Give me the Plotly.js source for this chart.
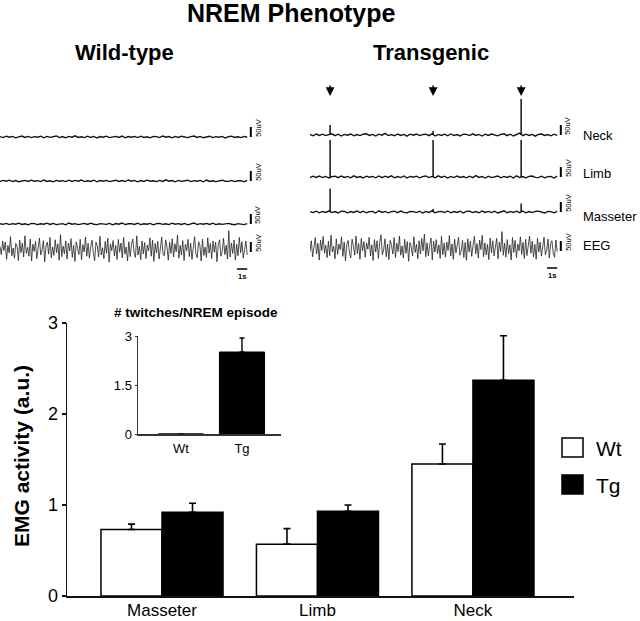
<!DOCTYPE html>
<html>
<head>
<meta charset="utf-8">
<script src="https://cdn.plot.ly/plotly-3.0.1.min.js"></script>
<style>
  html, body { margin: 0; padding: 0; background: #fff; }
  #chart { width: 640px; height: 621px; }
</style>
</head>
<body>
<div id="chart"></div>
<script>
'use strict';

/* ---------------------------- bar chart data ---------------------------- */
const muscles = ['Masseter', 'Limb', 'Neck'];
const wtMean = [0.73, 0.57, 1.45];
const wtErr = [0.06, 0.17, 0.22];
const tgMean = [0.92, 0.93, 2.37];
const tgErr = [0.10, 0.07, 0.49];

const twitchGroups = ['Wt', 'Tg'];
const twitchMean = [0, 2.51];
const twitchErr = [0, 0.43];

const legendNames = ['Wt', 'Tg'];

/* ------------------------- trace data (µV, 24 s) ------------------------- */
const rowNames = ['Neck', 'Limb', 'Masseter', 'EEG'];

const wtNeck = [2,-3,4,-1,3,-4,1,5,-2,3,-3,2,-1,4,-4,3,-2,1,5,-3,2,-4,3,-1,6,-2,1,-3,4,-2,3,-5,2,-1,4,-3,1,3,-2,5,-4,2,-1,3,-3,4,-2,1,-4,3,2,-3,5,-1,2,-4,3,-2,4,-1,-3,2,5,-2,3,-4,1,4,-3,2,-1,3,-5,2,4,-2,1,-3,3,-1];
const wtLimb = [-2,3,-1,4,-3,2,-4,1,3,-2,4,-1,2,-3,5,-2,1,-4,3,-1,2,-3,4,-2,3,-1,5,-3,1,-2,4,-4,2,-1,3,-3,1,4,-2,2,-3,5,-1,3,-4,2,-2,4,-1,1,-3,3,-2,6,-1,2,-4,3,-2,1,4,-3,2,-1,3,-4,5,-2,1,-3,2,4,-1,-2,3,-3,1,2,-4,3];
const wtMass = [1,-2,3,-3,2,-1,4,-2,1,-4,3,2,-3,1,-1,4,-2,3,-3,1,2,-4,5,-1,2,-3,1,3,-2,4,-1,-3,2,1,-2,3,-4,2,-1,5,-3,1,2,-2,4,-3,1,-1,3,-4,2,3,-2,1,-3,4,-1,2,-2,3,-4,1,5,-3,2,-1,3,-2,4,-3,1,-2,2,3,-1,-4,2,1,-3,2];
const wtEEG = [12,-28,40,-8,35,-52,18,-20,62,-34,5,-46,28,14,-58,44,-18,30,-40,66,-22,8,-36,50,-60,24,-12,38,-48,20,55,-30,-6,42,-64,16,34,-26,58,-44,10,-32,46,-18,26,-56,72,-38,14,-24,40,-50,30,-10,52,-42,18,-62,36,4,-28,48,-54,22,-14,60,-36,28,-46,12,44,-20,-58,34,16,-40,64,-30,6,-48,38,-22,54,-66,26,-8,42,-34,18,-52,48,-16,30,-44,58,-26,10,-60,36,-38,24,50,-18,-42,66,-30,14,-54,40,-24,32,-48,20,-10,56,-36,44,-62,28,-20,38,-50,16,60,-28,-34,46,8,-56,34,-22,52,-40,26,-14,70,-46,18,-30,42,-58,24,-8,48,-38,30,-52,14,62,-24,-44,36,20,-60,50,-32,10,-42,56,-20,28,-48,40,-16,34,-64,22,46,-36,-12,54,-28,18,-50,92,-40,30,-22,44,-56,24,-34,58,-18,36,-46,12,40,-30];

const tgNeck = [3,-4,5,-2,4,-3,2,6,-3,4,-5,3,-1,5,-4,2,-3,4,6,-2,3,-5,4,-1,8,-3,2,-4,5,-2,3,-6,4,-1,5,-3,2,4,-3,6,-5,3,-2,4,-4,5,-3,2,-5,4,3,-3,6,-2,3,-5,4,-2,5,-1,-4,3,6,-3,4,-5,2,10,-3,4,-2,3,-6,3,5,-2,2,-4,4,-2];
const tgLimb = [-3,4,-2,5,-3,3,-5,2,4,-3,5,-2,3,-4,6,-2,2,-5,4,-1,3,-4,5,-3,4,-2,6,-4,2,-3,5,-5,3,-1,4,-4,2,5,-3,3,-4,6,-2,4,-5,3,-3,5,-2,2,-4,4,-3,7,-2,3,-5,4,-3,2,5,-4,3,-2,4,-5,6,-3,2,-4,3,5,-2,-3,4,-4,2,3,-5,4];
const tgMass = [2,-3,4,-4,3,-2,5,-3,2,-5,4,3,-4,2,-2,5,-3,4,-4,2,3,-5,6,-2,3,-4,2,4,-3,5,-2,-4,3,2,-3,4,-5,3,-2,6,-4,2,3,-3,5,-4,2,-2,4,-5,3,4,-3,2,-4,5,-2,3,-3,4,-5,2,6,-4,3,-2,4,-3,5,-4,2,-3,3,4,-2,-5,3,2,-4,3];
const tgEEG = [-18,36,-44,10,52,-30,24,-60,40,-12,58,-26,14,-48,34,-38,64,-20,8,-54,46,-32,20,-8,56,-42,30,-64,18,38,-24,-50,44,12,-36,60,-28,22,-56,48,-14,32,-46,26,-6,54,-40,16,-62,42,-20,36,-52,28,66,-34,-10,46,-44,20,-58,38,14,-30,52,-48,24,-18,60,-36,10,-50,44,-26,32,-66,28,6,-40,56,-22,18,-54,36,-30,48,-14,70,-44,26,-38,12,50,-60,34,-20,42,-28,16,-52,58,-34,24,-46,30,-12,62,-40,20,-56,44,-24,8,54,-36,-16,38,-48,28,-62,46,-20,34,-42,14,58,-30,22,-50,40,-8,64,-44,26,-34,18,-58,50,-24,36,-40,12,48,-54,30,-18,82,-36,24,-46,42,-28,16,-60,52,-22,38,-48,20,-14,56,-32,28,-52,44,-38,10,60,-26,34,-44,18,-56,48,-20,30,-40,24,54,-34,-12,44,-50,22,36,-28,-46,40,-18];

// twitches (transgenic only), times in s, peak amplitudes per muscle in µV
const twitchTimes = [1.95, 11.95, 20.5];
const tgNeckSpikes = [50, 20, 180];
const tgLimbSpikes = [185, 185, 185];
const tgMassSpikes = [117, 15, 42];

/* ------------------------------- geometry ------------------------------- */
const W = 640, H = 621;
const FONT = 'Liberation Sans, Arial, sans-serif';
const fx = p => p / W;
const fy = p => 1 - p / H;
const UV_PER_PX = 5;
const PX_PER_S = 10.3;
const DUR = 24;
const SCALE_T = 24.35;

const times = arr => arr.map((_, i) => i * DUR / (arr.length - 1));

function rowAxis(xa, basePx, lo, hi) {
  return {
    anchor: xa, visible: false, fixedrange: true, range: [lo, hi],
    domain: [fy(basePx - lo / UV_PER_PX), fy(basePx - hi / UV_PER_PX)],
  };
}
const timeAxis = (ya, leftPx, rightPx) => ({
  anchor: ya, visible: false, fixedrange: true,
  domain: [fx(leftPx), fx(rightPx)], range: [0, (rightPx - leftPx) / PX_PER_S],
});

/* -------------------------------- traces -------------------------------- */
const traces = [];
const errStyle = (err) => ({
  type: 'data', symmetric: false, array: err, arrayminus: err.map(() => 0),
  color: '#000', thickness: 1.6, width: 3.5,
});
traces.push({
  type: 'bar', x: muscles, y: wtMean, name: 'Wt', xaxis: 'x', yaxis: 'y',
  marker: { color: '#fff', line: { color: '#000', width: 1.5 } },
  error_y: errStyle(wtErr), hoverinfo: 'x+y',
});
traces.push({
  type: 'bar', x: muscles, y: tgMean, name: 'Tg', xaxis: 'x', yaxis: 'y',
  marker: { color: '#000', line: { color: '#000', width: 1.5 } },
  error_y: errStyle(tgErr), hoverinfo: 'x+y',
});
traces.push({
  type: 'bar', x: twitchGroups, y: twitchMean, xaxis: 'x2', yaxis: 'y2', width: 0.74,
  marker: { color: '#000', line: { color: '#000', width: 1 } },
  error_y: Object.assign(errStyle(twitchErr), { thickness: 1.4, width: 2.5 }),
});

// EEG / EMG traces
const wtRows = [wtNeck, wtLimb, wtMass, wtEEG];
const tgRows = [tgNeck, tgLimb, tgMass, tgEEG];
const rowLine = (xa, ya, data, isEEG) => ({
  type: 'scatter', mode: 'lines', x: times(data), y: data, xaxis: xa, yaxis: ya,
  line: { color: isEEG ? '#222' : '#111', width: isEEG ? 0.8 : 1.4 },
  hoverinfo: 'skip',
});
wtRows.forEach((d, i) => traces.push(rowLine('x3', 'y' + (3 + i), d, i === 3)));
tgRows.forEach((d, i) => traces.push(rowLine('x4', 'y' + (7 + i), d, i === 3)));

[tgNeckSpikes, tgLimbSpikes, tgMassSpikes].forEach((amps, i) => {
  const xs = [], ys = [];
  twitchTimes.forEach((t, k) => { xs.push(t, t, null); ys.push(0, amps[k], null); });
  traces.push({
    type: 'scatter', mode: 'lines', x: xs, y: ys, xaxis: 'x4', yaxis: 'y' + (7 + i),
    line: { color: '#000', width: 1.4 }, hoverinfo: 'skip',
  });
});

/* -------------------------------- layout -------------------------------- */
const wtBase = [137, 181, 224, 249];
const tgBase = [135, 177, 212, 248];
const tgLabelOffset = [0, 20, -20, 15];   // µV, label centre relative to baseline

const layout = {
  width: W, height: H, margin: { l: 0, r: 0, t: 0, b: 0 },
  paper_bgcolor: '#fff', plot_bgcolor: 'rgba(0,0,0,0)',
  showlegend: false, barmode: 'group', bargap: 0.215, bargroupgap: 0,
  font: { family: FONT, color: '#000' },
  xaxis: {
    anchor: 'y', domain: [fx(67), fx(574)], range: [-0.611, 2.65], fixedrange: true,
    showline: true, linecolor: '#111', linewidth: 1.5, ticks: '', showgrid: false, zeroline: false,
    tickfont: { size: 17, color: '#000' }, ticklabelstandoff: -2,
  },
  yaxis: {
    anchor: 'x', domain: [fy(596), fy(323)], range: [0, 3], fixedrange: true,
    tickvals: [0, 1, 2, 3], showline: true, linecolor: '#111', linewidth: 1.5,
    ticks: 'outside', ticklen: 4, tickwidth: 1.5, tickcolor: '#111',
    showgrid: false, zeroline: false, tickfont: { size: 18, color: '#000' },
  },
  xaxis2: {
    anchor: 'y2', domain: [fx(138), fx(281)], range: [-0.705, 1.64], fixedrange: true,
    showline: true, linecolor: '#333', linewidth: 1.5, ticks: '', showgrid: false, zeroline: false,
    tickfont: { size: 13, color: '#000' }, ticklabelstandoff: 2,
  },
  yaxis2: {
    anchor: 'x2', domain: [fy(434), fy(336)], range: [0, 3], fixedrange: true,
    tickvals: [0, 1.5, 3], ticktext: ['0', '1.5', '3'], showline: true, linecolor: '#333', linewidth: 1.5,
    ticks: 'outside', ticklen: 2, tickcolor: '#333', showgrid: false, zeroline: false,
    tickfont: { size: 13, color: '#000' },
  },
  xaxis3: timeAxis('y3', 0, 300),
  xaxis4: timeAxis('y7', 310, 640),
  shapes: [],
  annotations: [],
};
wtBase.forEach((b, i) => {
  layout['yaxis' + (3 + i)] = i === 3 ? rowAxis('x3', b, -110, 110) : rowAxis('x3', b, -40, 220);
});
tgBase.forEach((b, i) => {
  layout['yaxis' + (7 + i)] = i === 3 ? rowAxis('x4', b, -110, 110) : rowAxis('x4', b, -40, 220);
});

// scale bars (50 µV vertical, 1 s horizontal) and labels
[['x3', 3], ['x4', 7]].forEach(([xa, y0]) => {
  for (let i = 0; i < 4; i++) {
    const ya = 'y' + (y0 + i);
    const lo = i === 3 ? -15 : 0;
    layout.shapes.push({ type: 'line', xref: xa, yref: ya, x0: SCALE_T, x1: SCALE_T, y0: lo, y1: lo + 50,
      line: { color: '#000', width: 2 } });
    layout.annotations.push({ xref: xa, yref: ya, x: SCALE_T, y: lo + 45, xshift: 7, textangle: -90,
      xanchor: 'center', yanchor: 'middle',
      text: '50uV', showarrow: false, font: { size: 7.5, color: '#000' } });
  }
  const eeg = 'y' + (y0 + 3);
  layout.shapes.push({ type: 'line', xref: xa, yref: eeg, x0: 23, x1: 24, y0: -100, y1: -100,
    line: { color: '#000', width: 1.5 } });
  layout.annotations.push({ xref: xa, yref: eeg, x: 23.5, y: -100, xanchor: 'center', yanchor: 'top', yshift: -1,
    text: '<b>1s</b>', showarrow: false, font: { size: 7.5, color: '#000' } });
});

rowNames.forEach((name, i) => {
  layout.annotations.push({ xref: 'x4', yref: 'y' + (7 + i), x: 26.3, y: tgLabelOffset[i],
    xanchor: 'left', yanchor: 'middle',
    text: name, showarrow: false, font: { size: 13, color: '#000' } });
});

twitchTimes.forEach(t => {
  layout.annotations.push({ xref: 'x4', yref: 'paper', x: t, y: fy(96), text: '', showarrow: true,
    ax: 0, ay: -12, arrowhead: 2, arrowsize: 1.1, arrowwidth: 1.6, arrowcolor: '#000' });
});

// titles
const title = (text, xPx, yPx, size, extra) => layout.annotations.push(Object.assign({
  xref: 'paper', yref: 'paper', x: fx(xPx), y: fy(yPx), text, showarrow: false,
  xanchor: 'center', yanchor: 'middle', font: { size, color: '#000' },
}, extra || {}));
title('<b>NREM Phenotype</b>', 291, 13, 25);
title('<b>Wild-type</b>', 124, 52, 22);
title('<b>Transgenic</b>', 431, 52, 22);
title('<b># twitches/NREM episode</b>', 112, 312, 13.5, { xanchor: 'left' });
title('<b>EMG activity (a.u.)</b>', 21, 456, 21, { textangle: -90 });

// legend boxes
const legendFill = ['#fff', '#000'];
const legendRowPx = [438, 475];
legendNames.forEach((name, i) => {
  const top = legendRowPx[i];
  layout.shapes.push({ type: 'rect', xref: 'paper', yref: 'paper',
    x0: fx(562), x1: fx(583), y0: fy(top + 19), y1: fy(top),
    fillcolor: legendFill[i], line: { color: '#000', width: 1.5 } });
  title(name, 594, top + 10, 21, { xanchor: 'left' });
});

Plotly.newPlot('chart', traces, layout, { displayModeBar: false, staticPlot: true });
</script>
</body>
</html>
